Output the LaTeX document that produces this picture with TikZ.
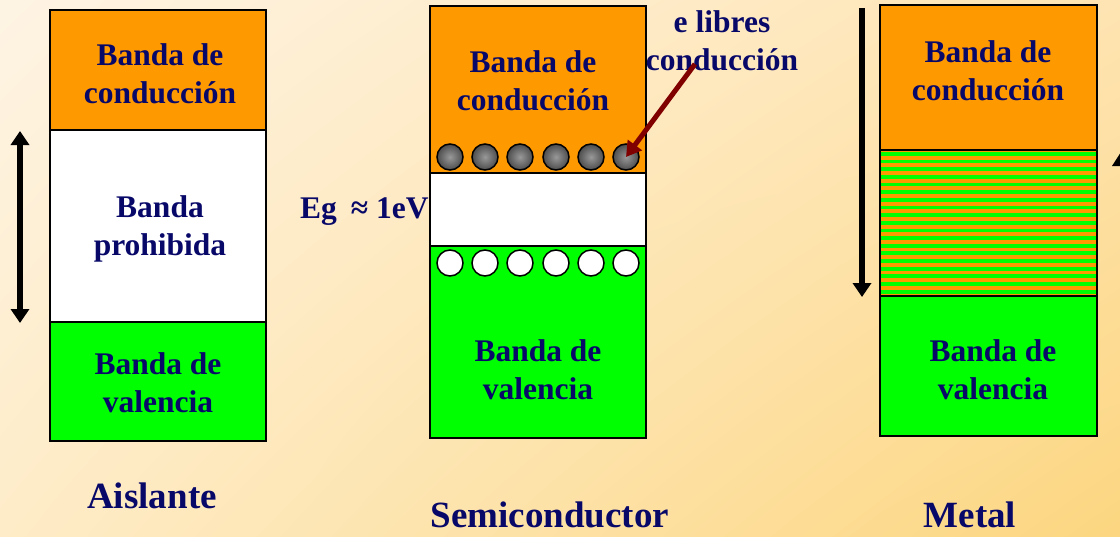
\documentclass[tikz,border=0pt]{standalone}
\usepackage{fontspec}
\setmainfont{Liberation Serif}
\usetikzlibrary{arrows.meta,shadings}
\definecolor{navy}{RGB}{8,8,105}
\definecolor{cband}{RGB}{255,153,0}
\definecolor{vband}{RGB}{0,255,0}
\definecolor{darkred}{RGB}{128,0,0}
\definecolor{bgA}{RGB}{254,244,228}
\definecolor{bgB}{RGB}{254,228,178}
\definecolor{bgC}{RGB}{254,236,200}
\definecolor{bgD}{RGB}{252,214,128}
\tikzset{
  bandbox/.style={draw=black, line width=1.8pt, anchor=north west, inner sep=0pt, outer sep=0pt},
  bandtext/.style={text=navy, font=\bfseries\fontsize{31.5}{38}\selectfont, align=center, inner sep=0pt},
  title/.style={text=navy, font=\bfseries\fontsize{37}{40}\selectfont, inner sep=0pt},
  headtip/.tip={Triangle[width=18pt,length=14pt]},
  bigarrow/.style={line width=5.5pt, -headtip},
  electron/.style={circle, draw=black, line width=1.5pt, minimum size=26pt, inner sep=0pt, inner color=gray!80, outer color=black!70},
  hole/.style={circle, draw=black, line width=1.5pt, minimum size=26pt, inner sep=0pt, fill=white}
}
\begin{document}
\begin{tikzpicture}[x=1pt,y=-1pt]
\useasboundingbox (0,0) rectangle (1120,536);
\shade[upper left=bgA, upper right=bgB, lower left=bgC, lower right=bgD] (0,0) rectangle (1120,536);

% Eg label (partly hidden by the semiconductor box)
\node[text=navy, font=\bfseries\fontsize{31.5}{36}\selectfont, anchor=base west, inner sep=0pt] (eg) at (300,218) {Eg\hspace{14pt}≈ 1eV};

% ---------- Aislante ----------
\node[bandbox, fill=cband, minimum width=216pt, minimum height=120pt] (ac) at (50,10) {};
\node[bandbox, fill=white, minimum width=216pt, minimum height=192pt] (ag) at (50,130) {};
\node[bandbox, fill=vband, minimum width=216pt, minimum height=119pt] (av) at (50,322) {};
\node[bandtext] (act) at (160,74) {Banda de\\conducción};
\node[bandtext] (agt) at (160,229) {Banda\\prohibida};
\node[bandtext] (avt) at (158,383) {Banda de\\valencia};
\node[title] (at) at (152,496) {Aislante};
\coordinate (a1) at (20,131);
\coordinate (a2) at (20,323);
\draw[line width=5.5pt, headtip-headtip] (a1) -- (a2);

% ---------- Semiconductor ----------
\node[bandbox, fill=cband, minimum width=216pt, minimum height=167pt] (sc) at (430,6) {};
\node[bandbox, fill=white, minimum width=216pt, minimum height=73pt] (sg) at (430,173) {};
\node[bandbox, fill=vband, minimum width=216pt, minimum height=192pt] (sv) at (430,246) {};
\node[bandtext] (sct) at (533,81) {Banda de\\conducción};
\node[bandtext] (svt) at (538,370) {Banda de\\valencia};
\foreach \i/\x in {1/450,2/485,3/520,4/556,5/591,6/626} {
  \node[electron] (e\i) at (\x,157) {};
  \node[hole] (h\i) at (\x,263) {};
}
\node[title] (st) at (550,515) {Semiconductor};
\node[bandtext] (lib) at (722,41) {e libres\\conducción};
\coordinate (ls) at (695,64);
\draw[darkred, line width=5pt, -{Triangle[width=17pt,length=15pt]}] (ls) -- (e6.center);

% ---------- Metal ----------
\node[bandbox, fill=cband, minimum width=217pt, minimum height=145pt] (mc) at (880,5) {};
\node[bandbox, fill=cband, minimum width=217pt, minimum height=146pt] (ms) at (880,150) {};
\begin{scope}
  \clip (881,151) rectangle (1096,295);
  \foreach \k in {0,...,19} {
    \fill[vband] (881,152+7.65*\k) rectangle (1096,155.8+7.65*\k);
  }
\end{scope}
\draw[line width=1.8pt] (ms.north west) rectangle (ms.south east);
\node[bandbox, fill=vband, minimum width=217pt, minimum height=140pt] (mv) at (880,296) {};
\node[bandtext] (mct) at (988,71) {Banda de\\conducción};
\node[bandtext] (mvt) at (993,370) {Banda de\\valencia};
\node[title] (mt) at (970,515) {Metal};
\coordinate (m1) at (862,8);
\coordinate (m2) at (862,297);
\draw[bigarrow] (m1) -- (m2);
% partially visible arrowhead at the right edge
\fill[black] (1121,152) -- (1112,166) -- (1130,166) -- cycle;
\end{tikzpicture}
\end{document}
